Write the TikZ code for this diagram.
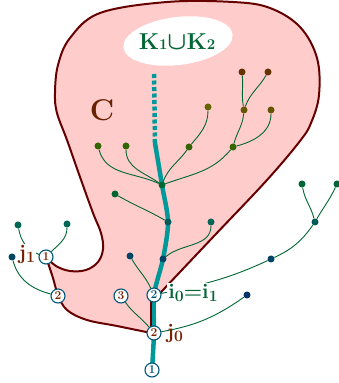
\documentclass[tikz,border=0pt]{standalone}
\usetikzlibrary{backgrounds}
\definecolor{wallc}{HTML}{660000}
\definecolor{blobc}{HTML}{FFCCCC}
\definecolor{trunkc}{HTML}{009999}
\definecolor{brc}{HTML}{006633}
\definecolor{ringc}{HTML}{005577}
\definecolor{jc}{HTML}{772200}
\definecolor{cc}{HTML}{662200}
\definecolor{olv}{HTML}{336600}
\definecolor{olb}{HTML}{666600}
\definecolor{ocr}{HTML}{665500}
\definecolor{brn}{HTML}{663300}
\definecolor{tl}{HTML}{005A5A}
\definecolor{tg}{HTML}{006655}
\definecolor{nv}{HTML}{004466}
\definecolor{nvd}{HTML}{003366}
\newcommand\lowidx[1]{\raisebox{-3pt}{\scalebox{0.75}{#1}}}
\newcommand\smidx[1]{\scalebox{0.65}{#1}}
\tikzset{
  dot/.style={circle, fill=#1, inner sep=0pt, minimum size=7pt},
  ring/.style={circle, draw=ringc, line width=1.1pt, fill=white, inner sep=0pt,
    minimum size=14pt, font=\fontsize{12}{12}\selectfont\bfseries, text=#1},
  br/.style={brc, line width=0.9pt},
  wall/.style={wallc, line width=2pt},
  trunk/.style={trunkc, line width=4.5pt},
  lbl/.style={fill=white, inner sep=1pt, font=\fontsize{21}{21}\selectfont\bfseries}
}
\begin{document}
\begin{tikzpicture}[x=1pt, y=1pt]
\useasboundingbox (0,0) rectangle (338,383);

% points of the trees
\foreach \n/\x/\y/\c in {hub/162/198/brc, a1/98/237/olv, a2/126/237/olv, a3/189/236/olv,
    a4/208/276/olb, b1/233/236/olv, b2/244/273/ocr, b3/271/273/ocr, b4/242/311/brn,
    b5/268/311/brn, t1/168/161/tl, c1/115/189/brc, t2/163/124/nv, c2/211/161/tg,
    c3/130/127/nv, d1/18/158/tg, d2/67/159/tg, d3/12/126/nv, e1/302/199/brc,
    e2/337/199/brc, e3/315/161/tl, e4/271/124/nv, e5/247/88/nvd}
  \node[dot=\c] (\n) at (\x,\y) {};

% numbered points
\node[ring=jc] (j1) at (46,126) {1};
\node[ring=jc] (l2) at (58,87) {2};
\node[ring=jc] (l3) at (121,87) {3};
\node[ring=ringc] (i0) at (154,88) {2};
\node[ring=jc] (j0) at (154,50) {2};
\node[ring=ringc] (r1) at (152,13) {1};
\coordinate (ttop) at (155,240);
\coordinate (kbot) at (154,311);

% labels
\node[lbl, text=jc] (j1lab) at (27,129) {j\lowidx{1}};
\node[lbl, text=brc] (i0lab) at (193,90) {i\lowidx{0}=i\lowidx{1}};
\node[lbl, text=jc, fill=none] (j0lab) at (175,50) {j\lowidx{0}};
\node[text=cc, font=\fontsize{30}{30}\selectfont\bfseries] (clab) at (102,273) {C};
\node[text=brc, font=\fontsize{23}{23}\selectfont\bfseries\boldmath] (klab) at (177,341)
  {K\smidx{1}$\cup$K\smidx{2}};

\begin{scope}[on background layer]
  % region C
  \draw[wall, fill=blobc, line join=round]
    plot[smooth, tension=0.6] coordinates {(46,126) (56,117) (70,112) (86,113) (98,121)
      (103,134) (101,150) (93,170) (80,206) (67,243) (57,270) (55,290) (58,318) (70,345)
      (100,370) (167,381) (233,381) (270,375) (300,356) (317,325) (319,288) (311,260)
      (300,242) (267,203) (215,148) (163,93)}
    -- (151,80) -- (151,52)
    -- plot[smooth, tension=0.6] coordinates {(151,50) (117,57) (87,63) (67,73) (58,88)
      (53,105) (46,126)} -- cycle;
  \fill[white, rotate around={7:(178,342)}] (178,342) ellipse (55pt and 24pt);

  % main path
  \draw[trunk] plot[smooth] coordinates {(r1) (j0) (i0) (t2) (t1) (hub) (ttop)};
  \draw[trunk, dash pattern=on 4pt off 2.5pt] (ttop) -- (kbot);
  \draw[wall] (151,83) -- (151,50);

  % branches
  \draw[br] (hub) to[out=155, in=-75] (a1);
  \draw[br] (hub) to[out=145, in=-90] (a2);
  \draw[br] (hub) to[out=70, in=235] (a3);
  \draw[br] (a3) to[out=50, in=-90] (a4);
  \draw[br] (hub) to[out=20, in=230] (b1);
  \draw[br] (b1) to[out=15, in=-90] (b3);
  \draw[br] (b1) to[out=75, in=-95] (b2);
  \draw[br] (b2) to[out=100, in=-85] (b4);
  \draw[br] (b2) to[out=70, in=-120] (b5);
  \draw[br] (t1) to[out=150, in=-30] (c1);
  \draw[br] (t2) to[out=40, in=-90] (c2);
  \draw[br] (i0) to[out=115, in=-60] (c3);
  \draw[br] (j0) to[out=130, in=-55] (l3);
  \draw[br] (j1) to[out=45, in=-90] (d2);
  \draw[br] (d1) to[out=-80, in=160] (j1);
  \draw[br] (d3) to[out=-75, in=165] (l2);
  \draw[br] (i0) to[out=12, in=205] (e4);
  \draw[br] (e4) to[out=25, in=235] (e3);
  \draw[br] (e3) to[out=105, in=-80] (e1);
  \draw[br] (e3) to[out=60, in=-115] (e2);
  \draw[br] (j0) to[out=10, in=215] (e5);
\end{scope}
\end{tikzpicture}
\end{document}
